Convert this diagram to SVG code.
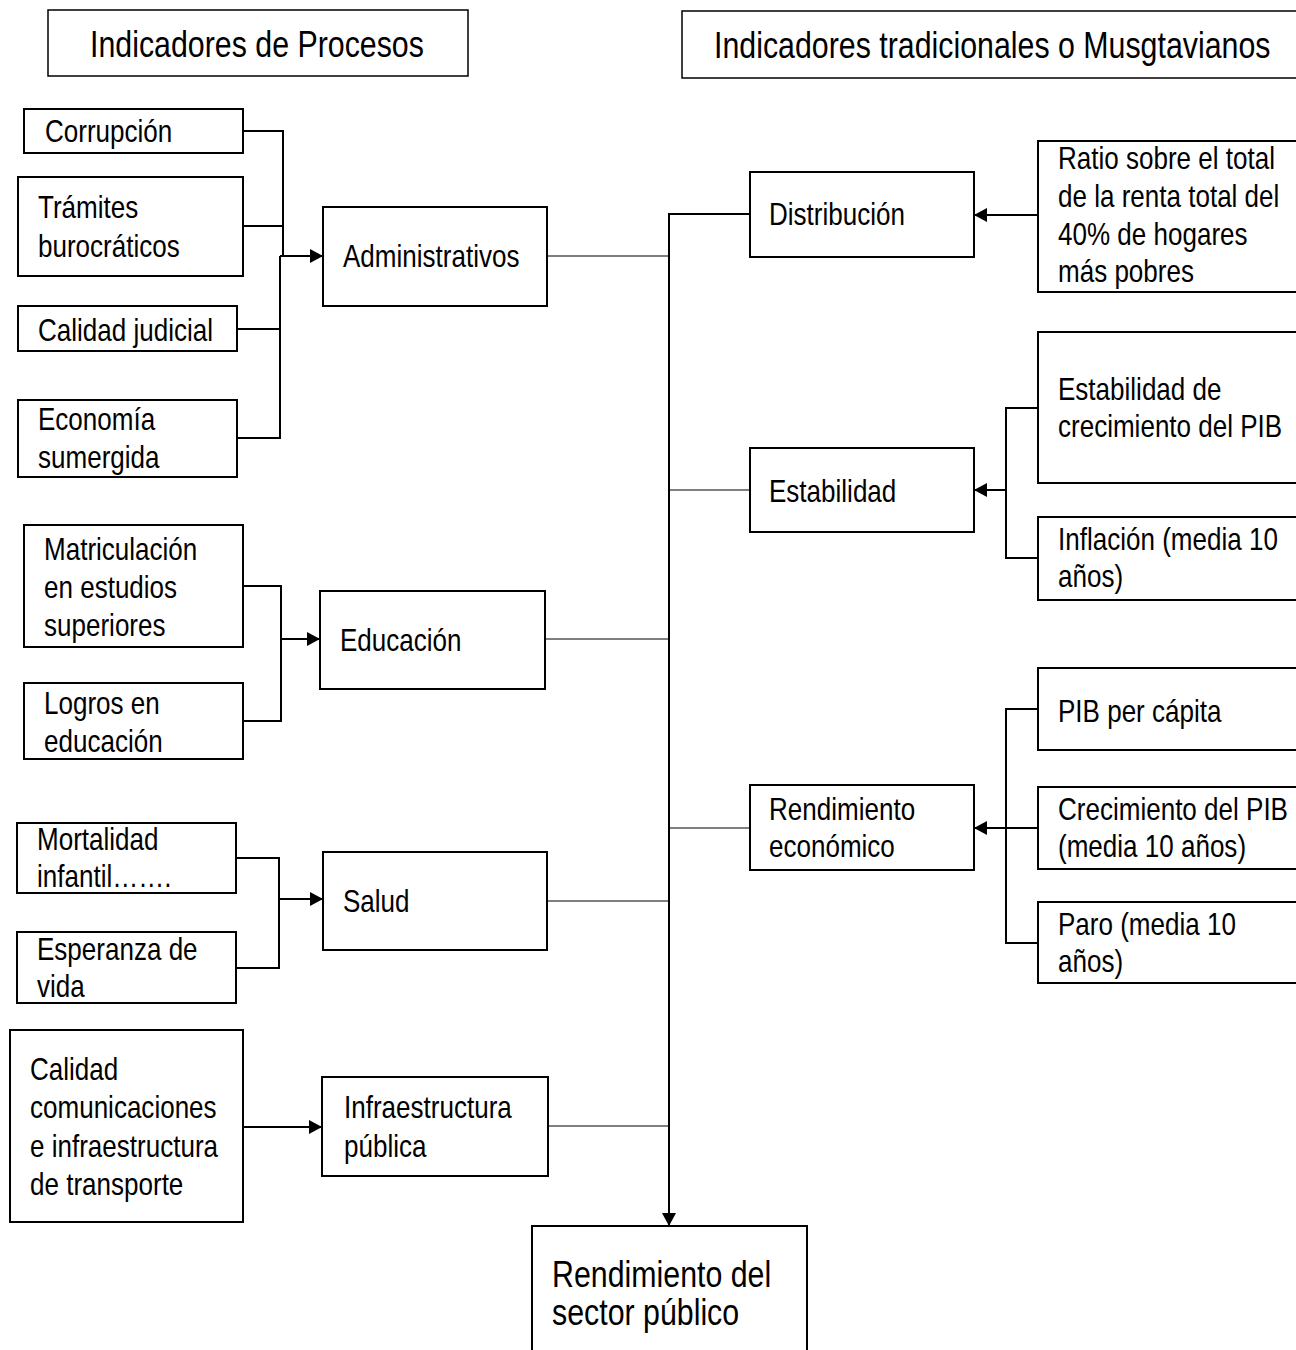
<svg xmlns="http://www.w3.org/2000/svg" width="1296" height="1350" viewBox="0 0 1296 1350">
<style>
.box{fill:#fff;stroke:#000;stroke-width:2}
.hdr{fill:#fff;stroke:#000;stroke-width:1.5}
.t{font-family:"Liberation Sans",Arial,sans-serif;font-size:31px;fill:#000}
.h{font-family:"Liberation Sans",Arial,sans-serif;font-size:37px;fill:#000}
.c{fill:none;stroke:#000;stroke-width:2}
.thin{fill:none;stroke:#000;stroke-width:1.2}
</style>
<defs>
<marker id="ah" markerUnits="userSpaceOnUse" markerWidth="14" markerHeight="14" refX="13" refY="7" orient="auto">
<path d="M0,0 L13,7 L0,14 z" fill="#000"/>
</marker>
</defs>
<rect width="1296" height="1350" fill="#fff"/>

<g id="connectors">
<path class="c" d="M243,131 H283 V256"/>
<path class="c" d="M243,226 H283"/>
<path class="c" d="M237,329 H280"/>
<path class="c" d="M237,438 H280 V256"/>
<path class="c" d="M280,256 H323" marker-end="url(#ah)"/>
<path class="c" d="M243,586 H281 V721 H243"/>
<path class="c" d="M281,639 H320" marker-end="url(#ah)"/>
<path class="c" d="M236,858 H279 V968 H236"/>
<path class="c" d="M279,899 H323" marker-end="url(#ah)"/>
<path class="c" d="M243,1127 H322" marker-end="url(#ah)"/>
<path class="thin" d="M547,256 H669"/>
<path class="thin" d="M545,639 H669"/>
<path class="thin" d="M547,901 H669"/>
<path class="thin" d="M548,1126 H669"/>
<path class="c" d="M750,214 H669 V1226" marker-end="url(#ah)"/>
<path class="thin" d="M669,490 H750"/>
<path class="thin" d="M669,828 H750"/>
<path class="c" d="M1038,215 H974" marker-end="url(#ah)"/>
<path class="c" d="M1038,408 H1006 V558 H1038"/>
<path class="c" d="M1006,490 H974" marker-end="url(#ah)"/>
<path class="c" d="M1038,709 H1006 V943 H1038"/>
<path class="c" d="M1038,828 H974" marker-end="url(#ah)"/>
</g>

<g id="hdr-procesos">
<rect class="hdr" x="48" y="10" width="420" height="66"/>
<text class="h" transform="translate(90 57) scale(0.82 1)">Indicadores de Procesos</text>
</g>
<g id="hdr-tradicionales">
<rect class="hdr" x="682" y="11" width="630" height="67"/>
<text class="h" transform="translate(714 58) scale(0.82 1)">Indicadores tradicionales o Musgtavianos</text>
</g>

<g id="corrupcion">
<rect class="box" x="24" y="109" width="219" height="44"/>
<text class="t" transform="translate(45 142) scale(0.84 1)">Corrupción</text>
</g>
<g id="tramites">
<rect class="box" x="18" y="177" width="225" height="99"/>
<text class="t" transform="translate(38 218) scale(0.84 1)"><tspan x="0" y="0">Trámites</tspan><tspan x="0" y="39">burocráticos</tspan></text>
</g>
<g id="calidad-judicial">
<rect class="box" x="18" y="306" width="219" height="45"/>
<text class="t" transform="translate(38 341) scale(0.84 1)">Calidad judicial</text>
</g>
<g id="economia">
<rect class="box" x="18" y="400" width="219" height="77"/>
<text class="t" transform="translate(38 430) scale(0.84 1)"><tspan x="0" y="0">Economía</tspan><tspan x="0" y="38">sumergida</tspan></text>
</g>
<g id="administrativos">
<rect class="box" x="323" y="207" width="224" height="99"/>
<text class="t" transform="translate(343 267) scale(0.84 1)">Administrativos</text>
</g>

<g id="matriculacion">
<rect class="box" x="24" y="525" width="219" height="122"/>
<text class="t" transform="translate(44 560) scale(0.84 1)"><tspan x="0" y="0">Matriculación</tspan><tspan x="0" y="38">en estudios</tspan><tspan x="0" y="76">superiores</tspan></text>
</g>
<g id="logros">
<rect class="box" x="24" y="683" width="219" height="76"/>
<text class="t" transform="translate(44 714) scale(0.84 1)"><tspan x="0" y="0">Logros en</tspan><tspan x="0" y="38">educación</tspan></text>
</g>
<g id="educacion">
<rect class="box" x="320" y="591" width="225" height="98"/>
<text class="t" transform="translate(340 651) scale(0.84 1)">Educación</text>
</g>

<g id="mortalidad">
<rect class="box" x="17" y="823" width="219" height="70"/>
<text class="t" transform="translate(37 850) scale(0.84 1)"><tspan x="0" y="0">Mortalidad</tspan><tspan x="0" y="37">infantil…….</tspan></text>
</g>
<g id="esperanza">
<rect class="box" x="17" y="932" width="219" height="71"/>
<text class="t" transform="translate(37 960) scale(0.84 1)"><tspan x="0" y="0">Esperanza de</tspan><tspan x="0" y="37">vida</tspan></text>
</g>
<g id="salud">
<rect class="box" x="323" y="852" width="224" height="98"/>
<text class="t" transform="translate(343 912) scale(0.84 1)">Salud</text>
</g>

<g id="calidad-comunicaciones">
<rect class="box" x="10" y="1030" width="233" height="192"/>
<text class="t" transform="translate(30 1080) scale(0.84 1)"><tspan x="0" y="0">Calidad</tspan><tspan x="0" y="38">comunicaciones</tspan><tspan x="0" y="77">e infraestructura</tspan><tspan x="0" y="115">de transporte</tspan></text>
</g>
<g id="infraestructura">
<rect class="box" x="322" y="1077" width="226" height="99"/>
<text class="t" transform="translate(344 1118) scale(0.84 1)"><tspan x="0" y="0">Infraestructura</tspan><tspan x="0" y="39">pública</tspan></text>
</g>

<g id="rendimiento-sector">
<rect class="box" x="532" y="1226" width="275" height="140"/>
<text class="h" transform="translate(552 1287) scale(0.82 1)"><tspan x="0" y="0">Rendimiento del</tspan><tspan x="0" y="38">sector público</tspan></text>
</g>

<g id="distribucion">
<rect class="box" x="750" y="172" width="224" height="85"/>
<text class="t" transform="translate(769 225) scale(0.84 1)">Distribución</text>
</g>
<g id="ratio">
<rect class="box" x="1038" y="141" width="270" height="151"/>
<text class="t" transform="translate(1058 169) scale(0.84 1)"><tspan x="0" y="0">Ratio sobre el total</tspan><tspan x="0" y="38">de la renta total del</tspan><tspan x="0" y="76">40% de hogares</tspan><tspan x="0" y="113">más pobres</tspan></text>
</g>

<g id="estabilidad">
<rect class="box" x="750" y="448" width="224" height="84"/>
<text class="t" transform="translate(769 502) scale(0.84 1)">Estabilidad</text>
</g>
<g id="estabilidad-pib">
<rect class="box" x="1038" y="332" width="270" height="151"/>
<text class="t" transform="translate(1058 400) scale(0.84 1)"><tspan x="0" y="0">Estabilidad de</tspan><tspan x="0" y="37">crecimiento del PIB</tspan></text>
</g>
<g id="inflacion">
<rect class="box" x="1038" y="517" width="270" height="83"/>
<text class="t" transform="translate(1058 550) scale(0.84 1)"><tspan x="0" y="0">Inflación (media 10</tspan><tspan x="0" y="37">años)</tspan></text>
</g>

<g id="rendimiento-economico">
<rect class="box" x="750" y="785" width="224" height="85"/>
<text class="t" transform="translate(769 820) scale(0.84 1)"><tspan x="0" y="0">Rendimiento</tspan><tspan x="0" y="37">económico</tspan></text>
</g>
<g id="pib-per-capita">
<rect class="box" x="1038" y="668" width="270" height="82"/>
<text class="t" transform="translate(1058 722) scale(0.84 1)">PIB per cápita</text>
</g>
<g id="crecimiento-pib">
<rect class="box" x="1038" y="787" width="270" height="82"/>
<text class="t" transform="translate(1058 820) scale(0.84 1)"><tspan x="0" y="0">Crecimiento del PIB</tspan><tspan x="0" y="37">(media 10 años)</tspan></text>
</g>
<g id="paro">
<rect class="box" x="1038" y="902" width="270" height="81"/>
<text class="t" transform="translate(1058 935) scale(0.84 1)"><tspan x="0" y="0">Paro (media 10</tspan><tspan x="0" y="37">años)</tspan></text>
</g>
</svg>
